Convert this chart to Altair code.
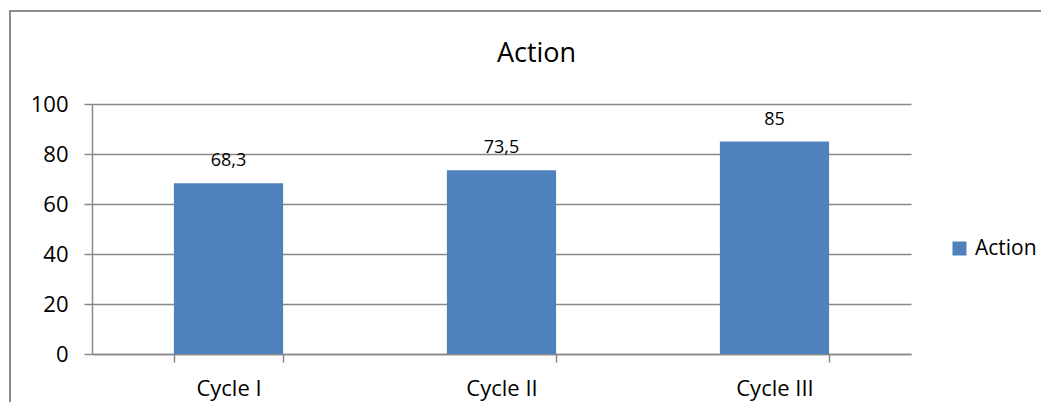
import altair as alt
import pandas as pd

categories = ["Cycle I", "Cycle II", "Cycle III"]
values = [68.3, 73.5, 85]
labels = ["68,3", "73,5", "85"]
series_name = "Action"
y_ticks = [0, 20, 40, 60, 80, 100]

df = pd.DataFrame({
    "category": categories,
    "value": values,
    "label": labels,
    "series": [series_name] * len(categories),
})

FONT = "Open Sans"
GRID = "#888888"
BAR = "#4F81BD"

x_enc = alt.X(
    "category:N",
    sort=categories,
    scale=alt.Scale(paddingInner=0.6, paddingOuter=0.3),
    axis=alt.Axis(
        title=None, labelAngle=0, labelFont=FONT, labelFontSize=22, labelColor="black",
        tickBand="extent", tickSize=8, tickColor=GRID, tickWidth=1.5,
        domainColor=GRID, domainWidth=1.5, labelPadding=16,
    ),
)
y_enc = alt.Y(
    "value:Q",
    scale=alt.Scale(domain=[0, 100], nice=False),
    axis=alt.Axis(
        title=None, values=y_ticks, labelFont=FONT, labelFontSize=22, labelColor="black",
        tickSize=8, tickColor=GRID, tickWidth=1.5, domainColor=GRID, domainWidth=1.5,
        grid=True, gridColor=GRID, gridWidth=1.5, labelPadding=16,
    ),
)

frame = alt.Chart(pd.DataFrame({"f": [0]})).mark_rect(
    fill="white", fillOpacity=0, stroke="#8c8c8c", strokeWidth=2
).encode(
    x=alt.value(-82), x2=alt.value(1500), y=alt.value(-93), y2=alt.value(1000)
)

bars = alt.Chart(df).mark_bar(color=BAR).encode(
    x=x_enc,
    y=y_enc,
    color=alt.Color(
        "series:N",
        scale=alt.Scale(range=[BAR]),
        legend=alt.Legend(
            title=None, orient="none", legendX=857, legendY=134,
            symbolType="square", symbolSize=196, symbolStrokeWidth=0,
            labelFont=FONT, labelFontSize=21, labelColor="black", labelOffset=5,
        ),
    ),
)

text = alt.Chart(df).mark_text(
    font=FONT, fontSize=18, color="black", baseline="alphabetic", dy=-17
).encode(
    x=alt.X("category:N", sort=categories),
    y=alt.Y("value:Q"),
    text="label:N",
)

chart = alt.layer(frame, bars, text).properties(
    width=819,
    height=250,
    autosize=alt.AutoSizeParams(type="none"),
    padding={"left": 84, "top": 96, "right": 130, "bottom": 48},
    title=alt.TitleParams(
        "Action", font=FONT, fontSize=27, fontWeight="normal", color="black",
        anchor="middle", frame="group", dx=35, offset=-58,
    ),
).configure_view(strokeWidth=0)

chart.save("out.html", embed_options={"renderer": "svg", "actions": False})
